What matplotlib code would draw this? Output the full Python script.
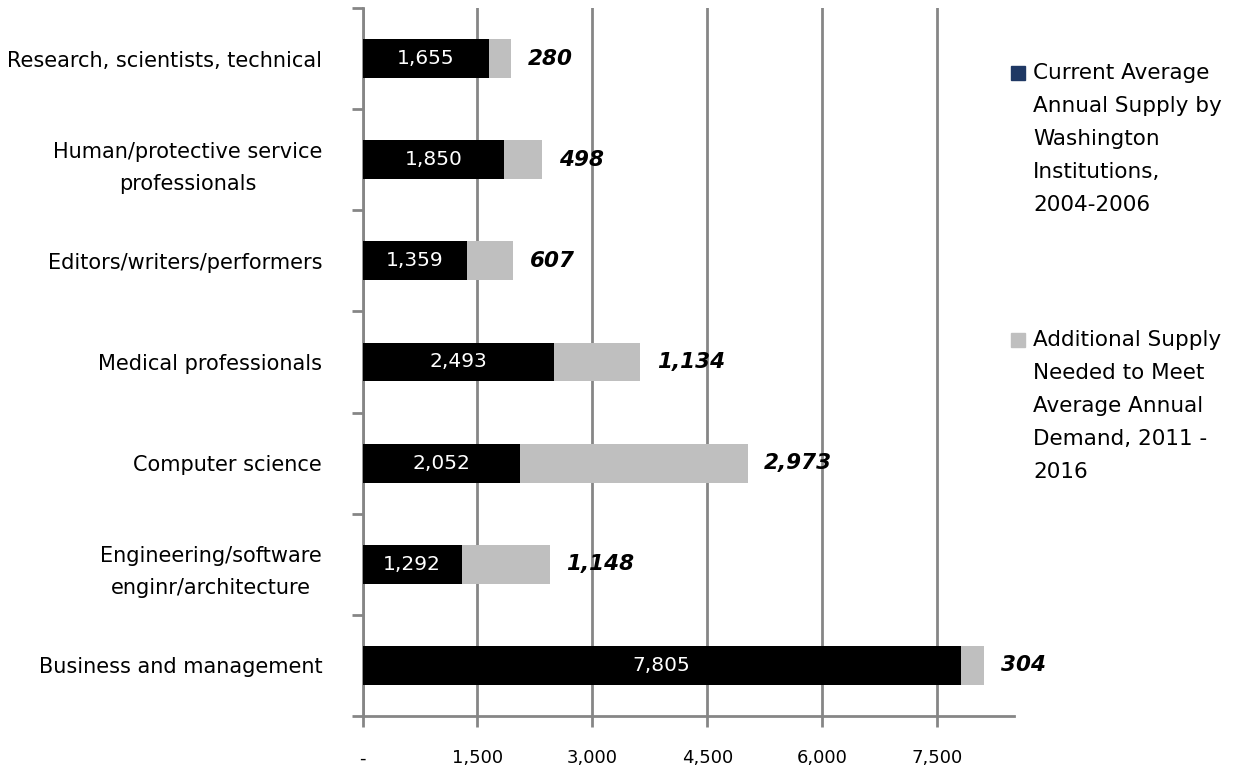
import numpy as np
import matplotlib.pyplot as plt
from matplotlib.patches import Rectangle

# categories listed bottom to top
categories = ['Business and management',
              'Engineering/software\nenginr/architecture',
              'Computer science',
              'Medical professionals',
              'Editors/writers/performers',
              'Human/protective service\nprofessionals',
              'Research, scientists, technical']
current = [7805, 1292, 2052, 2493, 1359, 1850, 1655]
additional = [304, 1148, 2973, 1134, 607, 498, 280]
xticks = [0, 1500, 3000, 4500, 6000, 7500]
xticklabels = ['-', '1,500', '3,000', '4,500', '6,000', '7,500']
legend_labels = ['Current Average\nAnnual Supply by\nWashington\nInstitutions,\n2004-2006',
                 'Additional Supply\nNeeded to Meet\nAverage Annual\nDemand, 2011 -\n2016']
legend_colors = ['#1F3864', '#BFBFBF']

plt.rcParams['font.family'] = 'DejaVu Sans'
axcol = '#868686'

fig = plt.figure(figsize=(12.5, 7.72), dpi=100)
ax = fig.add_axes([0.29, 1 - 716 / 772, 0.5212, 708 / 772])

y = np.arange(len(categories))
cur = np.array(current)
add = np.array(additional)
ax.barh(y, cur, height=0.385, color='black', zorder=3)
ax.barh(y, add, left=cur, height=0.385, color=legend_colors[1], zorder=3)

for i in range(len(y)):
    ax.text(cur[i] / 2, y[i], f'{current[i]:,}', color='white', fontsize=14.5,
            ha='center', va='center', zorder=4)
    ax.annotate(f'{additional[i]:,}', (cur[i] + add[i], y[i]), xytext=(12, 0),
                textcoords='offset points', fontsize=15.5, fontweight='bold',
                fontstyle='italic', ha='left', va='center', zorder=4)

ax.set_xlim(0, 8500)
ax.set_ylim(-0.5, 6.5)
ax.set_xticks(xticks)
ax.set_xticklabels(xticklabels, fontsize=13)
ax.set_yticks(np.arange(-0.5, 7, 1))
ax.set_yticklabels([])
ax.set_yticks(y, minor=True)
ax.set_yticklabels(categories, minor=True, fontsize=15, ha='right',
                   multialignment='center', linespacing=1.75)
ax.tick_params(axis='y', which='minor', length=0, pad=29)
ax.tick_params(axis='y', which='major', length=8, width=2, color=axcol)
ax.tick_params(axis='x', length=8, width=2, color=axcol, pad=16)

ax.grid(axis='x', color=axcol, linewidth=2, zorder=0)
ax.set_axisbelow(True)
for s in ['top', 'right']:
    ax.spines[s].set_visible(False)
for s in ['left', 'bottom']:
    ax.spines[s].set_color(axcol)
    ax.spines[s].set_linewidth(2)

# legend: square beside the first line of each wrapped label
legend_tops = [73, 340]
for lab, col, top in zip(legend_labels, legend_colors, legend_tops):
    fig.patches.append(Rectangle((1011 / 1250, 1 - (top + 7) / 772),
                                 14 / 1250, 14 / 772, color=col,
                                 transform=fig.transFigure, figure=fig))
    fig.text(1033 / 1250, 1 - (top + 66) / 772, lab, fontsize=15.5,
             ha='left', va='center', linespacing=1.81)

fig.savefig('out.png', dpi=100)
